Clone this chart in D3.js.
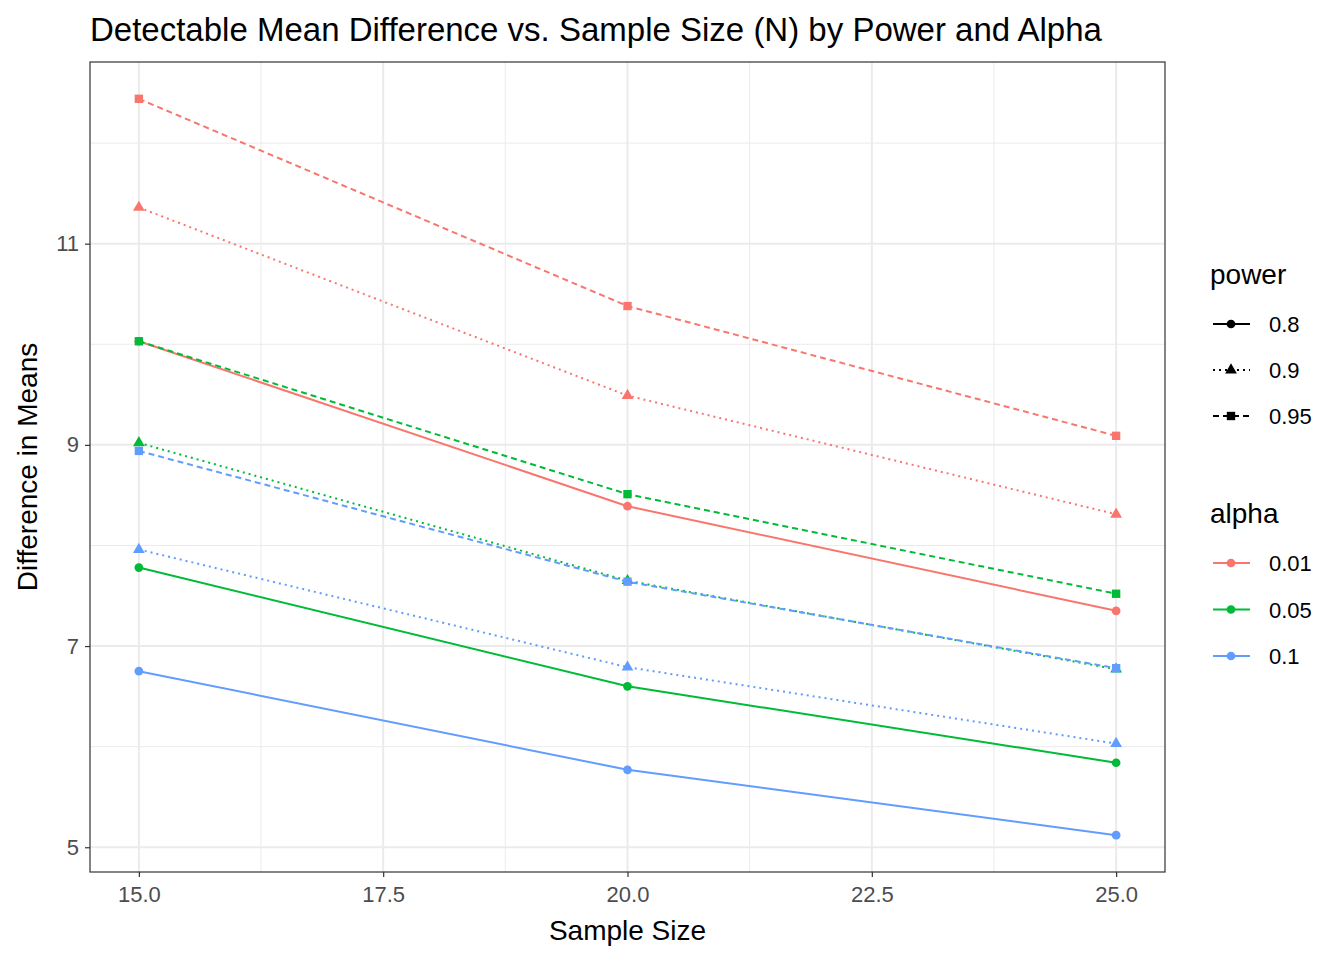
<!DOCTYPE html>
<html><head><meta charset="utf-8">
<script src="https://cdn.jsdelivr.net/npm/d3@7"></script>
<style>body{margin:0;background:#fff;font-family:"Liberation Sans",Arial,sans-serif;}</style>
</head><body><div id="chart"></div>
<script>
// data
var sampleSizes = [15, 20, 25];
var alphas = ["0.01", "0.05", "0.1"];
var powers = ["0.8", "0.9", "0.95"];
var diff_a01 = {"0.8": [10.03, 8.39, 7.35], "0.9": [11.36, 9.49, 8.31], "0.95": [12.44, 10.38, 9.09]};
var diff_a05 = {"0.8": [7.78, 6.60, 5.84], "0.9": [9.02, 7.65, 6.77], "0.95": [10.03, 8.51, 7.52]};
var diff_a10 = {"0.8": [6.75, 5.77, 5.12], "0.9": [7.96, 6.79, 6.03], "0.95": [8.94, 7.64, 6.78]};
var xTicks = [15, 17.5, 20, 22.5, 25];
var yTicks = [5, 7, 9, 11];

var colors = {"0.01": "#F8766D", "0.05": "#00BA38", "0.1": "#619CFF"};
var dashes = {"0.8": null, "0.9": "2,4", "0.95": "6,4"};
var shapes = {"0.8": d3.symbolCircle, "0.9": d3.symbolTriangle, "0.95": d3.symbolSquare};
var shapeSize = {"0.8": 60, "0.9": 60, "0.95": 70};

var byAlpha = {"0.01": diff_a01, "0.05": diff_a05, "0.1": diff_a10};
var series = [];
alphas.forEach(function(a) {
    powers.forEach(function(p) {
        series.push({alpha: a, power: p, values: byAlpha[a][p].map(function(v, i) { return {n: sampleSizes[i], d: v}; })});
    });
});

var margin = {top: 62, left: 90},
    width = 1075, height = 810;

var svg = d3.select("#chart").append("svg").attr("width", 1344).attr("height", 960);
var g = svg.append("g").attr("transform", "translate(" + margin.left + "," + margin.top + ")");

var x = d3.scaleLinear().domain([14.5, 25.5]).range([0, width]);
var y = d3.scaleLinear().domain([4.754, 12.806]).range([height, 0]);

// grid
[16.25, 18.75, 21.25, 23.75].forEach(function(v) {
    g.append("line").attr("x1", x(v)).attr("x2", x(v)).attr("y1", 0).attr("y2", height).attr("stroke", "#ebebeb").attr("stroke-width", 1);
});
[6, 8, 10, 12].forEach(function(v) {
    g.append("line").attr("y1", y(v)).attr("y2", y(v)).attr("x1", 0).attr("x2", width).attr("stroke", "#ebebeb").attr("stroke-width", 1);
});
xTicks.forEach(function(v) {
    g.append("line").attr("x1", x(v)).attr("x2", x(v)).attr("y1", 0).attr("y2", height).attr("stroke", "#ebebeb").attr("stroke-width", 2);
});
yTicks.forEach(function(v) {
    g.append("line").attr("y1", y(v)).attr("y2", y(v)).attr("x1", 0).attr("x2", width).attr("stroke", "#ebebeb").attr("stroke-width", 2);
});

var line = d3.line().x(function(d) { return x(d.n); }).y(function(d) { return y(d.d); });

series.forEach(function(s) {
    g.append("path").datum(s.values).attr("d", line).attr("fill", "none")
        .attr("stroke", colors[s.alpha]).attr("stroke-width", 2)
        .attr("stroke-dasharray", dashes[s.power]);
    g.selectAll(null).data(s.values).enter().append("path")
        .attr("d", d3.symbol().type(shapes[s.power]).size(shapeSize[s.power]))
        .attr("transform", function(d) { return "translate(" + x(d.n) + "," + y(d.d) + ")"; })
        .attr("fill", colors[s.alpha]);
});

g.append("rect").attr("width", width).attr("height", height).attr("fill", "none").attr("stroke", "#333").attr("stroke-width", 1.2);

// axes
var xAxis = g.append("g").attr("transform", "translate(0," + height + ")")
    .call(d3.axisBottom(x).tickValues(xTicks).tickFormat(d3.format(".1f")).tickSize(5).tickPadding(9));
var yAxis = g.append("g")
    .call(d3.axisLeft(y).tickValues(yTicks).tickSize(5).tickPadding(6));
[xAxis, yAxis].forEach(function(a) {
    a.select(".domain").remove();
    a.selectAll("line").attr("stroke", "#333").attr("stroke-width", 1.2);
    a.selectAll("text").attr("fill", "#4d4d4d").style("font-size", "22px").style("font-family", "Liberation Sans, Arial, sans-serif");
});

svg.append("text").attr("x", 90).attr("y", 41).style("font-size", "33px").attr("fill", "#000")
    .text("Detectable Mean Difference vs. Sample Size (N) by Power and Alpha");
svg.append("text").attr("x", margin.left + width / 2).attr("y", 940).attr("text-anchor", "middle")
    .style("font-size", "28px").text("Sample Size");
svg.append("text").attr("transform", "translate(37," + (margin.top + height / 2) + ") rotate(-90)")
    .attr("text-anchor", "middle").style("font-size", "28px").text("Difference in Means");

// legends
var leg = svg.append("g");
leg.append("text").attr("x", 1210).attr("y", 284).style("font-size", "28px").text("power");
powers.forEach(function(p, i) {
    var yy = 324 + i * 46;
    leg.append("line").attr("x1", 1213).attr("x2", 1250).attr("y1", yy).attr("y2", yy)
        .attr("stroke", "#000").attr("stroke-width", 2).attr("stroke-dasharray", dashes[p]);
    leg.append("path").attr("d", d3.symbol().type(shapes[p]).size(shapeSize[p]))
        .attr("transform", "translate(1231," + yy + ")").attr("fill", "#000");
    leg.append("text").attr("x", 1269).attr("y", yy + 8).style("font-size", "22px").text(p);
});
leg.append("text").attr("x", 1210).attr("y", 523).style("font-size", "28px").text("alpha");
alphas.forEach(function(a, i) {
    var yy = 563 + i * 46.5;
    leg.append("line").attr("x1", 1213).attr("x2", 1250).attr("y1", yy).attr("y2", yy)
        .attr("stroke", colors[a]).attr("stroke-width", 2);
    leg.append("path").attr("d", d3.symbol().type(d3.symbolCircle).size(60))
        .attr("transform", "translate(1231," + yy + ")").attr("fill", colors[a]);
    leg.append("text").attr("x", 1269).attr("y", yy + 8).style("font-size", "22px").text(a);
});
</script>
</body></html>
